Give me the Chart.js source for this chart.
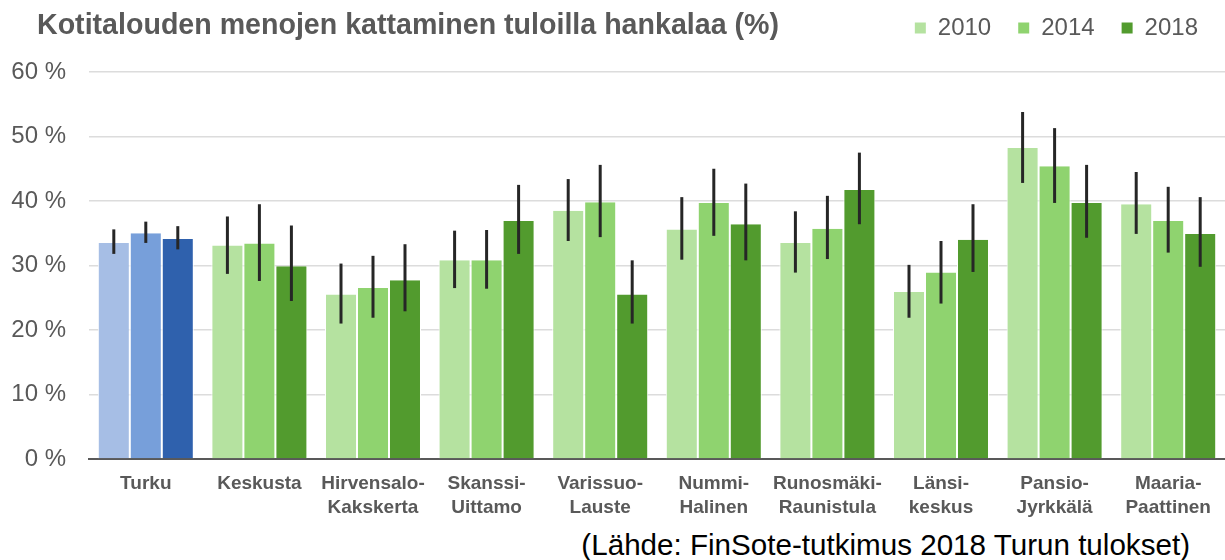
<!DOCTYPE html>
<html lang="fi">
<head>
  <meta charset="UTF-8" />
  <title>Kotitalouden menojen kattaminen tuloilla hankalaa (%)</title>
  <script src="https://cdn.jsdelivr.net/npm/chart.js"></script>
  <style>
    body {
      margin: 0;
      background: #fff;
      font-family: 'Liberation Sans', Arial, sans-serif;
    }

    #wrap {
      position: relative;
      width: 1225px;
      height: 560px;
      overflow: hidden;
    }

    #chart-box {
      position: absolute;
      left: 0;
      top: 0;
      width: 1225px;
      height: 525px;
    }

    h1 {
      position: absolute;
      left: 37px;
      top: 7px;
      margin: 0;
      font-size: 28.6px;
      line-height: 34px;
      font-weight: 700;
      color: #595959;
      z-index: 2;
    }

    #source {
      position: absolute;
      right: 35px;
      top: 529px;
      font-size: 29.6px;
      line-height: 32px;
      color: #000;
    }
  </style>
</head>
<body>
  <div id="wrap">
    <h1>Kotitalouden menojen kattaminen tuloilla hankalaa (%)</h1>
    <div id="chart-box"><canvas id="myChart"></canvas></div>
    <div id="source">(Lähde: FinSote-tutkimus 2018 Turun tulokset)</div>
  </div>

  <script>
    // alueet
    const areas = [
      'Turku', 'Keskusta', ['Hirvensalo-', 'Kakskerta'], ['Skanssi-', 'Uittamo'],
      ['Varissuo-', 'Lauste'], ['Nummi-', 'Halinen'], ['Runosmäki-', 'Raunistula'],
      ['Länsi-', 'keskus'], ['Pansio-', 'Jyrkkälä'], ['Maaria-', 'Paattinen']
    ];
    const years = ['2010', '2014', '2018'];

    // osuudet (%)
    const v2010 = [33.5, 33.1, 25.5, 30.8, 38.5, 35.6, 33.5, 25.9, 48.2, 39.5];
    const v2014 = [35.0, 33.4, 26.5, 30.8, 39.8, 39.7, 35.7, 28.9, 45.4, 36.9];
    const v2018 = [34.1, 29.9, 27.7, 36.9, 25.5, 36.4, 41.7, 34.0, 39.7, 34.9];

    // luottamusvälit
    const lo2010 = [31.8, 28.7, 21.0, 26.5, 33.8, 30.9, 28.9, 21.9, 42.8, 34.9];
    const hi2010 = [35.6, 37.6, 30.3, 35.4, 43.4, 40.6, 38.4, 30.1, 53.8, 44.5];
    const lo2014 = [33.5, 27.6, 21.9, 26.4, 34.4, 34.6, 31.0, 24.1, 39.7, 32.0];
    const hi2014 = [36.8, 39.5, 31.5, 35.5, 45.6, 45.0, 40.8, 33.8, 51.3, 42.2];
    const lo2018 = [32.5, 24.5, 22.9, 31.8, 21.0, 30.8, 36.4, 29.0, 34.3, 29.8];
    const hi2018 = [36.1, 36.2, 33.3, 42.5, 30.8, 42.7, 47.5, 39.5, 45.6, 40.6];

    const yTicks = [0, 10, 20, 30, 40, 50, 60];

    const greens = ['#b5e2a0', '#8fd36f', '#529b2e'];
    const blues = ['#a6bee5', '#779fda', '#2f61ad'];
    const grey = '#595959';

    const values = [v2010, v2014, v2018];
    const lows = [lo2010, lo2014, lo2018];
    const highs = [hi2010, hi2014, hi2018];

    const errorBars = {
      id: 'errorBars',
      afterDatasetsDraw(chart) {
        const { ctx, scales: { y } } = chart;
        ctx.save();
        ctx.strokeStyle = '#262626';
        ctx.lineWidth = 3;
        chart.data.datasets.forEach((ds, i) => {
          chart.getDatasetMeta(i).data.forEach((bar, j) => {
            ctx.beginPath();
            ctx.moveTo(bar.x, y.getPixelForValue(ds.errLow[j]));
            ctx.lineTo(bar.x, y.getPixelForValue(ds.errHigh[j]));
            ctx.stroke();
          });
        });
        ctx.restore();
      }
    };

    // lisää tilaa selitteen alle
    const legendGap = {
      id: 'legendGap',
      afterInit(chart) {
        const fit = chart.legend.fit;
        chart.legend.fit = function () {
          fit.call(this);
          this.height += 22;
        };
      }
    };

    new Chart(document.getElementById('myChart'), {
      type: 'bar',
      data: {
        labels: areas,
        datasets: years.map((yr, k) => ({
          label: yr,
          data: values[k],
          errLow: lows[k],
          errHigh: highs[k],
          backgroundColor: c => c.dataIndex === 0 ? blues[k] : greens[k],
          borderColor: '#ffffff',
          borderWidth: { left: 1, right: 1, top: 0, bottom: 0 },
          categoryPercentage: 0.845,
          barPercentage: 1.0
        }))
      },
      options: {
        responsive: true,
        maintainAspectRatio: false,
        animation: false,
        layout: { padding: { top: -11, left: 0, right: 0, bottom: 0 } },
        scales: {
          x: {
            grid: { display: false },
            border: { display: true, color: grey, width: 2 },
            ticks: {
              color: grey,
              padding: 4,
              maxRotation: 0,
              font: { family: "'Liberation Sans', Arial, sans-serif", size: 19, weight: 'bold', lineHeight: 1.3 }
            },
            afterFit: s => { s.height = 66; }
          },
          y: {
            min: 0,
            max: 60,
            afterBuildTicks: s => { s.ticks = yTicks.map(v => ({ value: v })); },
            grid: { color: '#dcdcdc', lineWidth: 1.5, drawTicks: false },
            border: { display: false },
            ticks: {
              color: grey,
              padding: 23,
              font: { family: "'Liberation Sans', Arial, sans-serif", size: 24 },
              callback: v => v + ' %'
            },
            afterFit: s => { s.width = 89; }
          }
        },
        plugins: {
          legend: {
            position: 'top',
            align: 'end',
            labels: {
              boxWidth: 11,
              boxHeight: 11,
              padding: 27,
              color: grey,
              font: { family: "'Liberation Sans', Arial, sans-serif", size: 24 },
              generateLabels: chart =>
                Chart.defaults.plugins.legend.labels.generateLabels(chart).map((item, i) => ({
                  ...item,
                  fillStyle: greens[i],
                  strokeStyle: greens[i],
                  lineWidth: 0
                }))
            }
          },
          tooltip: { enabled: false }
        }
      },
      plugins: [errorBars, legendGap]
    });
  </script>
</body>
</html>
